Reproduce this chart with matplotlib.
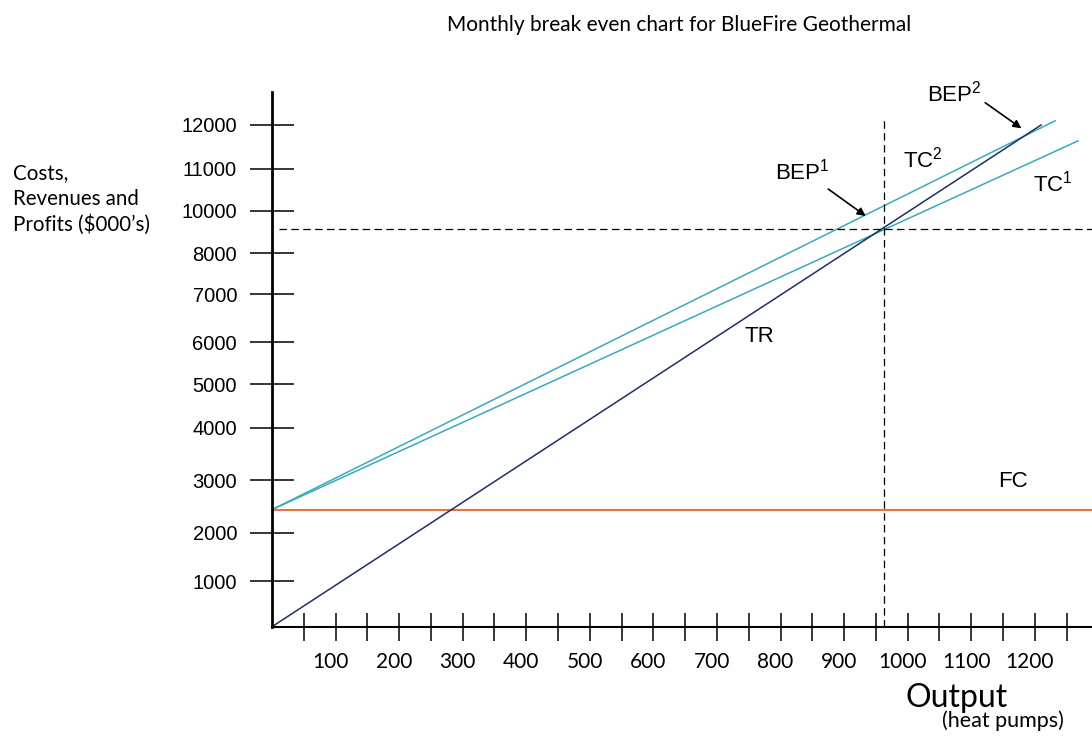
import numpy as np
import matplotlib
matplotlib.use("Agg")
import matplotlib.pyplot as plt
import matplotlib.transforms as mtransforms

plt.rcParams["mathtext.fontset"] = "custom"
plt.rcParams["mathtext.rm"] = "Liberation Sans"

# Break even model ($000's against heat pumps per month)
fixed_cost = 2800
output_tr = [0, 1210]
revenue_tr = [0, 12000]
output_tc1 = [0, 1268]
cost_tc1 = [2800, 11620]
output_tc2 = [0, 1232]
cost_tc2 = [2800, 12100]
bep_output = 963
bep_value = 9505

xtick_labels = ["100", "200", "300", "400", "500", "600", "700", "800",
                "900", "1000", "1100", "1200"]
ytick_labels = ["12000", "11000", "10000", "8000", "7000", "6000", "5000",
                "4000", "3000", "2000", "1000"]
# the value axis is hand spaced, so the labels sit at these heights
ytick_pos = [12000, 10954, 9943, 8931, 7950, 6802, 5798, 4760, 3501, 2248, 1093]

navy = "#1d2f66"
teal = "#3aa9c0"
orange = "#e8743b"
label_font = "Liberation Sans"
round_font = "Lato"

fig = plt.figure(figsize=(10.92, 7.36), dpi=100)
ax = fig.add_axes([272 / 1092, 1 - 626.7 / 736, 820 / 1092, 534.7 / 736])
ax.set_xlim(0, 1290)
ax.set_ylim(0, 12789)

ax.plot([0, 1290], [fixed_cost, fixed_cost], color=orange, lw=1.5, clip_on=False)
ax.plot(output_tc1, cost_tc1, color=teal, lw=1.1)
ax.plot(output_tc2, cost_tc2, color=teal, lw=1.1)
ax.plot(output_tr, revenue_tr, color=navy, lw=1.1)

ax.plot([11, 1290], [bep_value, bep_value], color="black", lw=0.9,
        dashes=(6, 3.5), clip_on=False)
ax.plot([bep_output, bep_output], [0, 12166], color="black", lw=0.9,
        dashes=(6, 3.5))

for side in ["top", "right"]:
    ax.spines[side].set_visible(False)
ax.spines["left"].set_linewidth(2.0)
ax.spines["bottom"].set_linewidth(1.5)

ax.set_yticks(ytick_pos)
ax.set_yticklabels(ytick_labels, fontfamily=label_font, fontsize=14.5)
ax.tick_params(axis="y", direction="inout", length=31, width=1.1, pad=9.7)

ax.set_xticks(np.arange(100, 1300, 100))
ax.set_xticklabels(xtick_labels, fontfamily=round_font, fontsize=15)
ax.set_xticks(np.arange(50, 1300, 100), minor=True)
ax.tick_params(axis="x", which="both", direction="inout", length=19.5,
               width=1.1, pad=8.5)
# nudge the output numbers slightly left of their ticks
shift = mtransforms.ScaledTranslation(-0.05, 0, fig.dpi_scale_trans)
for lab in ax.get_xticklabels():
    lab.set_transform(lab.get_transform() + shift)

# line labels
lbl = dict(fontfamily=label_font, fontsize=16, va="baseline", ha="left")
ax.text(744, 6817, "TR", **lbl)
ax.text(1142, 3349, "FC", **lbl)
ax.text(993, 10988, r"TC$^\mathrm{2}$", **lbl)
ax.text(1197, 10421, r"TC$^\mathrm{1}$", **lbl)
ax.text(792, 10708, r"BEP$^\mathrm{1}$", **lbl)
ax.text(1030, 12557, r"BEP$^\mathrm{2}$", clip_on=False, **lbl)

arrow = dict(arrowstyle="-|>", color="black", lw=1.2, mutation_scale=12,
             shrinkA=0, shrinkB=0)
ax.annotate("", xy=(934, 9823), xytext=(875, 10469), arrowprops=arrow)
ax.annotate("", xy=(1179, 11920), xytext=(1122, 12533), arrowprops=arrow,
            annotation_clip=False)

fig.text(679 / 1092, 1 - 25 / 736, "Monthly break even chart for BlueFire Geothermal",
         fontfamily=round_font, fontsize=15, ha="center", va="center")
fig.text(13 / 1092, 1 - 199 / 736, "Costs,\nRevenues and\nProfits ($000’s)",
         fontfamily=round_font, fontsize=14.8, ha="left", va="center",
         linespacing=1.35)
fig.text(957 / 1092, 1 - 707 / 736, "Output", fontfamily=round_font,
         fontsize=23, ha="center", va="baseline")
fig.text(1003 / 1092, 1 - 727 / 736, "(heat pumps)", fontfamily=round_font,
         fontsize=15.5, ha="center", va="baseline")

fig.savefig("out.png", dpi=100)
